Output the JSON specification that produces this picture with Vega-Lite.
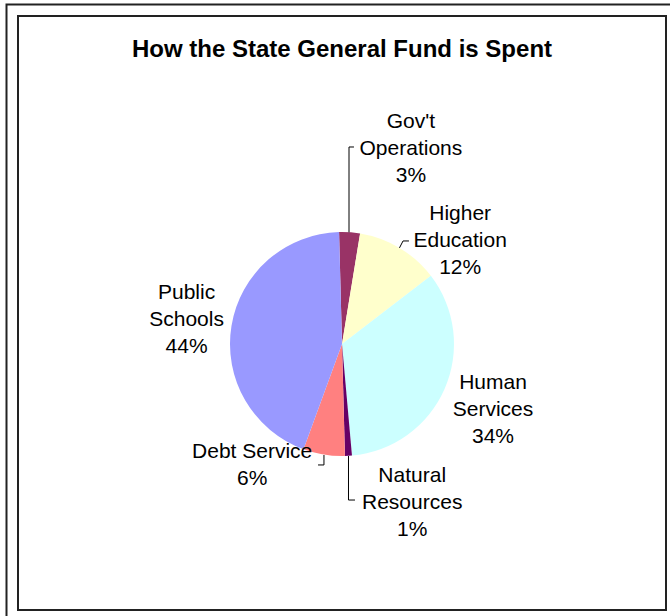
{
  "$schema": "https://vega.github.io/schema/vega-lite/v6.json",
  "width": 648,
  "height": 594,
  "autosize": {"type": "none"},
  "padding": {"left": 18, "top": 16, "right": 4, "bottom": 6},
  "background": "white",
  "title": {
    "text": "How the State General Fund is Spent",
    "font": "Liberation Sans",
    "fontSize": 24,
    "fontWeight": "bold",
    "color": "black",
    "anchor": "middle",
    "baseline": "alphabetic",
    "offset": -40,
    "dy": 37
  },
  "config": {
    "view": {"stroke": "#222", "strokeWidth": 2},
    "text": {"font": "Liberation Sans"}
  },
  "datasets": {
    "slices": [
      {"idx": 1, "category": "Gov't Operations", "value": 3, "label": "Gov't\nOperations\n3%"},
      {"idx": 2, "category": "Higher Education", "value": 12, "label": "Higher\nEducation\n12%"},
      {"idx": 3, "category": "Human Services", "value": 34, "label": "Human\nServices\n34%"},
      {"idx": 4, "category": "Natural Resources", "value": 1, "label": "Natural\nResources\n1%"},
      {"idx": 5, "category": "Debt Service", "value": 6, "label": "Debt Service\n6%"},
      {"idx": 6, "category": "Public Schools", "value": 44, "label": "Public\nSchools\n44%"}
    ],
    "leaders": [
      {"leader": "Gov't Operations", "seq": 1, "x": 0.0625, "y": 0.997},
      {"leader": "Gov't Operations", "seq": 2, "x": 0.0625, "y": 1.759},
      {"leader": "Gov't Operations", "seq": 3, "x": 0.107, "y": 1.759},
      {"leader": "Higher Education", "seq": 1, "x": 0.513, "y": 0.858},
      {"leader": "Higher Education", "seq": 2, "x": 0.545, "y": 0.92},
      {"leader": "Higher Education", "seq": 3, "x": 0.598, "y": 0.92},
      {"leader": "Natural Resources", "seq": 1, "x": 0.058, "y": -1.0},
      {"leader": "Natural Resources", "seq": 2, "x": 0.058, "y": -1.393},
      {"leader": "Natural Resources", "seq": 3, "x": 0.116, "y": -1.393},
      {"leader": "Debt Service", "seq": 1, "x": -0.161, "y": -0.991},
      {"leader": "Debt Service", "seq": 2, "x": -0.161, "y": -1.08},
      {"leader": "Debt Service", "seq": 3, "x": -0.214, "y": -1.08}
    ]
  },
  "layer": [
    {
      "data": {"values": [{}]},
      "mark": {"type": "rect", "fill": null, "stroke": "#222", "strokeWidth": 2},
      "encoding": {
        "x": {"value": -11.5},
        "y": {"value": -11.5},
        "x2": {"value": 700},
        "y2": {"value": 700}
      }
    },
    {
      "data": {"name": "slices"},
      "mark": {"type": "arc", "outerRadius": 112, "yOffset": 31},
      "encoding": {
        "theta": {"field": "value", "type": "quantitative", "stack": true, "scale": {"range": [-0.0262, 6.257]}},
        "order": {"field": "idx", "type": "quantitative"},
        "color": {
          "field": "category",
          "type": "nominal",
          "legend": null,
          "scale": {
            "domain": ["Gov't Operations", "Higher Education", "Human Services", "Natural Resources", "Debt Service", "Public Schools"],
            "range": ["#993366", "#FFFFCC", "#CCFFFF", "#660066", "#FF8080", "#9999FF"]
          }
        }
      }
    },
    {
      "data": {"name": "slices"},
      "mark": {
        "type": "text",
        "radius": 160,
        "yOffset": 31,
        "fontSize": 21,
        "lineHeight": 27,
        "lineBreak": "\n",
        "align": "center",
        "baseline": "middle",
        "color": "black",
        "dx": {"expr": "datum.idx == 1 ? 58 : datum.idx == 2 ? 36 : datum.idx == 3 ? 4.5 : datum.idx == 4 ? 61 : datum.idx == 5 ? -64 : 2.5"},
        "dy": {"expr": "datum.idx == 1 ? -62 : datum.idx == 2 ? 7 : datum.idx == 3 ? -25 : datum.idx == 4 ? -28 : datum.idx == 5 ? -49.5 : -25"}
      },
      "encoding": {
        "theta": {"field": "value", "type": "quantitative", "stack": true},
        "order": {"field": "idx", "type": "quantitative"},
        "text": {"field": "label"}
      }
    },
    {
      "data": {"name": "leaders"},
      "mark": {"type": "line", "color": "black", "strokeWidth": 1},
      "encoding": {
        "x": {"field": "x", "type": "quantitative", "axis": null, "scale": {"domain": [-2.8929, 2.8929], "nice": false, "zero": false}},
        "y": {"field": "y", "type": "quantitative", "axis": null, "scale": {"domain": [-2.375, 2.9286], "nice": false, "zero": false}},
        "detail": {"field": "leader"},
        "order": {"field": "seq", "type": "quantitative"}
      }
    }
  ]
}
